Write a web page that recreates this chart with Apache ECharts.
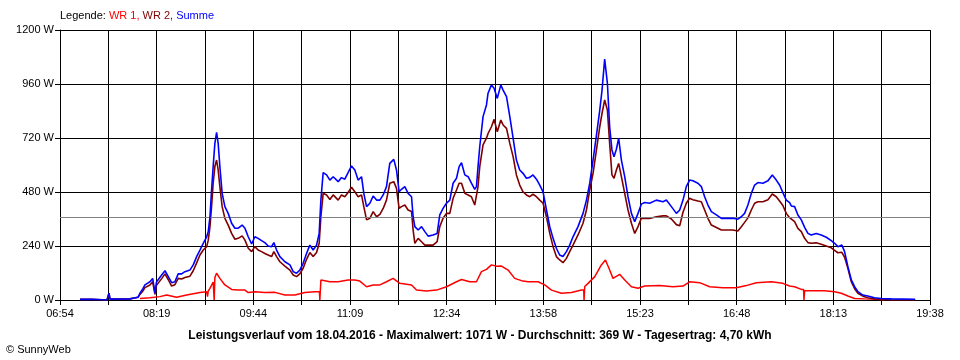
<!DOCTYPE html>
<html>
<head>
<meta charset="utf-8">
<script src="https://cdn.jsdelivr.net/npm/echarts/dist/echarts.min.js"></script>
<style>
html,body{margin:0;padding:0;background:#fff;}
#chart{width:960px;height:360px;}
</style>
</head>
<body>
<div id="chart"></div>
<script>
// ---- data (times in minutes of day, power in W) ----
const T0 = 414;   // 06:54
const T1 = 1178;  // 19:38
const xTickLabels = ['06:54','08:19','09:44','11:09','12:34','13:58','15:23','16:48','18:13','19:38'];
const yTickValues = [0, 240, 480, 720, 960, 1200];
const AVG_W = 369;
const chartTitle = 'Leistungsverlauf vom 18.04.2016 - Maximalwert: 1071 W - Durchschnitt: 369 W - Tagesertrag: 4,70 kWh';

const tSum = [
 431.6,442.1,443.0,455.3,456.1,457.0,457.9,475.4,476.3,482.5,
 484.2,486.8,488.6,493.0,495.4,496.5,497.4,498.7,500.3,503.3,
 506.2,509.1,512.0,514.9,517.8,520.8,523.7,528.1,531.0,534.0,
 536.9,539.8,542.8,544.2,545.7,547.1,548.5,550.0,551.5,552.9,
 554.4,556.4,558.8,561.7,564.7,567.6,570.5,574.0,576.4,579.3,
 582.3,585.1,588.0,591.0,593.9,596.8,599.8,601.8,604.2,607.1,
 611.5,615.9,618.8,621.7,624.6,627.5,630.5,633.4,636.3,639.3,
 641.6,643.1,645.1,648.1,651.0,653.9,658.3,661.2,664.1,667.0,
 670.0,672.9,675.8,678.8,680.8,683.2,686.1,689.0,692.0,694.9,
 697.8,700.7,703.6,707.1,709.5,711.8,713.9,716.8,719.7,722.7,
 724.1,725.6,728.5,731.5,734.4,737.3,741.6,745.2,747.5,750.4,
 753.4,756.3,759.2,762.2,764.5,766.6,769.5,772.4,775.3,778.2,
 779.7,781.1,782.6,785.5,788.5,789.9,792.9,795.2,798.0,801.1,
 803.1,806.1,809.0,811.9,814.8,817.7,820.6,823.6,826.5,829.4,
 832.4,835.3,838.2,841.2,844.1,847.0,849.9,852.8,855.7,858.7,
 861.6,864.5,868.9,873.3,876.3,879.2,882.1,885.1,888.0,890.0,
 892.3,894.7,896.7,898.7,900.5,902.6,904.6,907.0,909.9,912.8,
 915.8,918.7,921.6,924.5,927.4,931.8,937.7,943.5,946.5,950.9,
 955.3,958.2,961.1,964.0,966.9,969.8,974.2,977.2,980.1,983.0,
 986.0,990.4,994.8,999.2,1004.9,1009.3,1012.3,1015.2,1018.1,1021.1,
 1024.0,1026.9,1031.3,1035.7,1039.5,1043.0,1045.9,1048.8,1051.8,1054.7,
 1056.2,1059.1,1062.0,1065.0,1067.9,1070.8,1073.7,1078.1,1082.5,1086.9,
 1091.3,1094.2,1097.1,1100.6,1103.0,1105.9,1108.9,1111.8,1114.7,1119.0,
 1123.4,1129.3,1135.2,1144.0,1165.0
];
const summeW = [
 3,3,0,0,4,30,4,5,12,12,
 30,50,67,81,96,90,30,80,81,111,
 130,104,77,81,116,116,126,133,156,193,
 222,252,281,304,370,489,593,696,745,696,
 593,474,415,385,341,319,319,333,319,281,
 249,281,274,264,255,240,237,255,222,193,
 170,156,126,119,133,163,207,244,222,244,
 296,444,566,556,533,548,526,544,537,566,
 596,578,533,548,474,415,430,462,444,444,
 467,504,607,625,578,481,492,504,474,459,
 370,326,311,326,304,284,289,296,378,407,
 430,444,519,541,593,610,556,548,519,492,
 504,593,681,815,867,919,956,941,896,956,
 933,904,815,719,622,578,563,541,545,556,
 537,511,481,400,326,274,230,200,193,215,
 244,281,326,385,444,519,622,733,844,933,
 1071,963,770,667,637,670,719,622,548,459,
 385,348,385,426,433,430,444,437,444,415,
 385,400,444,504,533,530,519,504,459,422,
 393,378,363,363,363,359,370,385,422,474,
 511,522,519,530,556,533,511,477,444,433,
 418,415,378,356,323,296,289,296,289,279,
 264,252,237,244,215,148,89,59,37,22,
 18,10,7,5,3
];
const wr2W = [
 3,3,0,0,4,30,4,5,12,12,
 25,40,55,67,81,78,25,65,70,95,
 116,90,62,68,96,93,100,106,130,165,
 200,222,237,266,326,415,519,593,622,578,
 504,415,363,333,296,270,274,285,266,230,
 215,237,222,215,207,200,193,215,193,170,
 151,133,111,104,116,141,181,211,193,211,
 252,370,474,467,447,467,444,467,459,478,
 501,481,459,467,415,356,363,393,370,381,
 407,444,519,526,496,407,415,422,400,393,
 311,252,274,259,244,244,244,259,326,363,
 385,385,452,489,519,519,474,467,459,422,
 415,504,593,689,719,740,770,803,748,800,
 778,763,696,637,556,511,481,467,459,470,
 459,444,430,370,296,237,193,178,166,185,
 215,244,289,341,400,489,563,667,770,830,
 889,844,696,556,541,578,607,548,474,400,
 341,296,326,363,363,362,370,374,374,360,
 335,330,390,430,452,446,440,437,400,363,
 333,322,311,311,311,307,326,345,365,400,
 430,437,437,446,471,459,440,420,385,366,
 360,348,318,304,274,255,252,254,248,240,
 232,221,210,212,190,141,81,50,30,17,
 10,5,3,0,0
];
const tWr1 = [
 484.2,493.0,501.8,507.6,516.4,525.2,536.9,542.8,543.5,544.2,
 545.7,548.5,549.4,550.0,551.5,554.4,558.8,564.7,570.5,576.4,
 579.3,585.1,593.9,602.7,611.5,620.3,629.0,637.8,641.8,642.2,
 643.1,646.6,651.0,658.3,667.0,672.9,677.3,683.2,689.0,694.9,
 700.7,706.5,712.4,722.7,727.1,735.8,744.6,753.4,762.2,766.6,
 773.8,779.7,784.1,788.5,792.9,797.3,801.7,807.5,813.3,819.2,
 825.0,833.8,839.7,845.6,854.3,863.1,871.9,873.9,874.2,874.8,
 877.7,883.6,889.4,893.0,896.7,899.6,905.5,909.9,915.8,921.6,
 927.4,940.6,952.3,961.1,966.9,975.7,984.5,996.2,1007.9,1016.7,
 1025.5,1038.6,1048.8,1054.7,1059.1,1065.0,1067.0,1067.3,1067.9,1085.4,
 1094.2,1100.1,1105.9,1111.8,1120.5,1132.2,1138.1
];
const wr1W = [
 7,10,15,22,12,22,33,37,15,40,
 52,80,0,100,119,96,67,47,44,44,
 33,37,33,34,22,22,33,37,37,0,
 89,86,81,81,89,89,84,59,67,67,
 81,96,74,67,44,40,44,59,81,91,
 81,81,126,136,156,150,151,133,96,86,
 81,81,67,44,30,33,44,44,0,60,
 74,104,156,178,133,96,114,89,59,52,
 62,64,59,62,81,77,59,54,54,64,
 77,81,74,62,59,47,47,0,41,41,
 37,30,18,7,5,3,0
];

// ---- chart ----
const STEP = (T1 - T0) / 18;
const FONT = 'Liberation Sans';
const pairs = (ts, vs) => ts.map((t, i) => [t - T0, vs[i]]);

const chart = echarts.init(document.getElementById('chart'), null, {renderer: 'canvas'});
chart.setOption({
  animation: false,
  backgroundColor: '#fff',
  title: [
    {
      left: 60, top: 10, padding: 0,
      text: '{k|Legende: }{a|WR 1, }{b|WR 2, }{c|Summe}',
      textStyle: {
        fontFamily: FONT, fontSize: 11, fontWeight: 'normal',
        rich: {
          k: {color: '#000', fontFamily: FONT, fontSize: 11},
          a: {color: '#ff0000', fontFamily: FONT, fontSize: 11},
          b: {color: '#800000', fontFamily: FONT, fontSize: 11},
          c: {color: '#0000ff', fontFamily: FONT, fontSize: 11}
        }
      }
    },
    {
      left: 'center', top: 330, padding: 0,
      text: chartTitle,
      textStyle: {fontFamily: FONT, fontSize: 12, fontWeight: 'bold', color: '#000'}
    },
    {
      left: 6, top: 344, padding: 0,
      text: '© SunnyWeb',
      textStyle: {fontFamily: FONT, fontSize: 11, fontWeight: 'normal', color: '#000'}
    }
  ],
  grid: {left: 60, right: 30, top: 30, bottom: 60, containLabel: false},
  xAxis: {
    type: 'value', min: 0, max: T1 - T0, interval: STEP,
    axisLine: {show: true, lineStyle: {color: '#000', width: 1}},
    axisTick: {show: true, length: 5, lineStyle: {color: '#000'}},
    splitLine: {show: true, lineStyle: {color: '#000', width: 1}},
    axisLabel: {
      color: '#000', fontFamily: FONT, fontSize: 11, margin: 8,
      showMinLabel: true, showMaxLabel: true,
      formatter: v => {
        const i = Math.round(v / STEP);
        return i % 2 === 0 ? xTickLabels[i / 2] : '';
      }
    }
  },
  yAxis: {
    type: 'value', min: yTickValues[0], max: yTickValues[yTickValues.length - 1], interval: yTickValues[1] - yTickValues[0],
    axisLine: {show: true, lineStyle: {color: '#000', width: 1}},
    axisTick: {show: true, length: 5, lineStyle: {color: '#000'}},
    splitLine: {show: true, lineStyle: {color: '#000', width: 1}},
    axisLabel: {color: '#000', fontFamily: FONT, fontSize: 11, margin: 6, formatter: v => v + ' W'}
  },
  series: [
    {
      name: 'WR 1', type: 'line', data: pairs(tWr1, wr1W),
      showSymbol: false, symbol: 'none', z: 3,
      lineStyle: {color: '#ff0000', width: 1.5},
      markLine: {
        silent: true, symbol: 'none', label: {show: false},
        lineStyle: {color: '#808080', width: 1, type: 'solid'},
        data: [{yAxis: AVG_W}]
      }
    },
    {
      name: 'WR 2', type: 'line', data: pairs(tSum, wr2W),
      showSymbol: false, symbol: 'none', z: 4,
      lineStyle: {color: '#800000', width: 1.6}
    },
    {
      name: 'Summe', type: 'line', data: pairs(tSum, summeW),
      showSymbol: false, symbol: 'none', z: 5,
      lineStyle: {color: '#0000ff', width: 1.6}
    }
  ]
});
</script>
</body>
</html>
